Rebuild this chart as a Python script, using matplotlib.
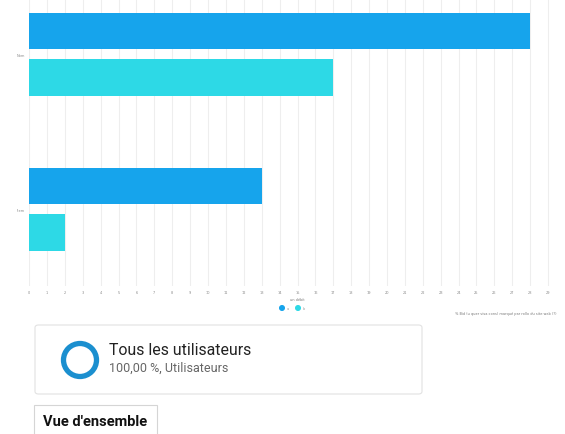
# Grouped horizontal bars with segment card below
import numpy as np
import matplotlib.pyplot as plt
from matplotlib.patches import FancyBboxPatch, Rectangle, Ellipse

# Data
categories = ["Nom", "Item"]
series_a = [28, 13]
series_b = [17, 2]
x_ticks = list(range(0, 30))
x_label = "un débit"
note = "% Bid (u quer visa cons) marqué par rollo du site web (?)"

blue = "#16a4ec"
cyan = "#2dd9e6"

W, H = 565, 435
fig = plt.figure(figsize=(W / 100, H / 100), dpi=100)


def fx(px):
    return px / W


def fy(py):
    return 1 - py / H


def dot(px, py, r, **kw):
    # round in pixels, placed in figure coords
    e = Ellipse((fx(px), fy(py)), 2 * r / W, 2 * r / H, transform=fig.transFigure, **kw)
    fig.patches.append(e)


# Chart axes
ax_top, ax_bot = 0, 287
ax = fig.add_axes([fx(29), fy(ax_bot), fx(566) - fx(29), fy(ax_top) - fy(ax_bot)])
y = np.arange(len(categories))
h = 0.235
ax.barh(y - 0.152, series_a, height=h, color=blue, zorder=3)
ax.barh(y + 0.148, series_b, height=h, color=cyan, zorder=3)
ax.set_xlim(0, 30)
ax.set_ylim(1.494, -0.358)
ax.set_xticks(x_ticks)
ax.set_xticklabels([str(t) for t in x_ticks], fontsize=2.5, color="#888888")
ax.set_yticks(y)
ax.set_yticklabels(categories, fontsize=2.5, color="#888888")
ax.tick_params(length=0, pad=3)
ax.grid(axis="x", color="#eeeeee", linewidth=0.8, zorder=0)
for s in ax.spines.values():
    s.set_visible(False)

# x label and legend
fig.text(fx(297), fy(300), x_label, fontsize=2.5, color="#777777", ha="center", va="center")
dot(282, 309, 2.3, color=blue)
fig.text(fx(287), fy(309), "a", fontsize=2.5, color="#999999", va="center")
dot(298, 309, 2.3, color=cyan)
fig.text(fx(303), fy(309), "b", fontsize=2.5, color="#999999", va="center")
fig.text(fx(455), fy(314), note, fontsize=2.5, color="#777777", va="center")

# Segment card
card = FancyBboxPatch((fx(35), fy(395)), fx(422) - fx(35), fy(326) - fy(395),
                      boxstyle="round,pad=0,rounding_size=0.006",
                      transform=fig.transFigure, facecolor="white",
                      edgecolor="#e2e2e2", linewidth=0.8)
fig.patches.append(card)
dot(80, 361, 16.5, fill=False, edgecolor="#1b8fcf", linewidth=3.8)
fig.text(fx(109), fy(351), "Tous les utilisateurs", fontsize=11.4, family="Roboto",
         color="#222222", va="center")
fig.text(fx(109), fy(368), "100,00 %, Utilisateurs", fontsize=9, family="Roboto",
         color="#666666", va="center")

# Tab
tab = Rectangle((fx(34), fy(440)), fx(157) - fx(34), fy(406) - fy(440),
                transform=fig.transFigure, facecolor="white",
                edgecolor="#d5d5d5", linewidth=0.8)
fig.patches.append(tab)
fig.text(fx(43), fy(422), "Vue d'ensemble", fontsize=10.5, family="Roboto",
         weight="bold", color="#111111", va="center")

fig.savefig("out.png", dpi=100)
